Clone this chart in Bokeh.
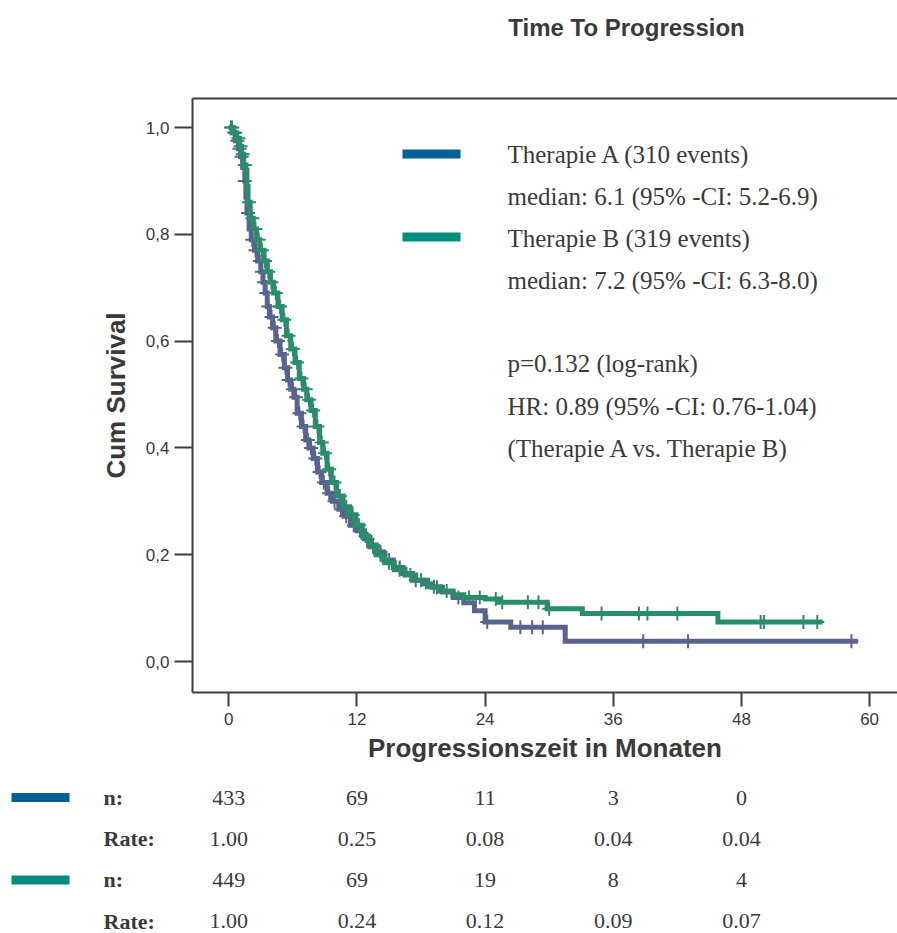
import numpy as np
from bokeh.plotting import figure
from bokeh.models import Range1d, LinearAxis, FixedTicker, ColumnDataSource
from bokeh.layouts import column, row
from bokeh.embed import file_html
from bokeh.resources import INLINE
from bokeh.core.properties import value

# ---------------- data ----------------
title_text = "Time To Progression"
x_label = "Progressionszeit in Monaten"
y_label = "Cum Survival"
x_ticks = [0, 12, 24, 36, 48, 60]
y_ticks = [0.0, 0.2, 0.4, 0.6, 0.8, 1.0]
y_tick_labels = ["0,0", "0,2", "0,4", "0,6", "0,8", "1,0"]

# Therapie A: step times and survival after each step
time_a = [0, 0.3, 0.6, 0.9, 1.1, 1.3, 1.5, 1.6, 1.7, 1.9, 2.1, 2.4, 2.7, 3.0, 3.2, 3.4,
          3.6, 3.8, 4.1, 4.4, 4.8, 5.2, 5.5, 5.8, 6.1, 6.4, 6.8, 7.2, 7.5, 7.9, 8.3, 8.7,
          9.2, 9.7, 10.3, 10.8, 11.4, 12.0, 12.7, 13.2, 13.8, 14.5, 15.4, 16.3, 17.2,
          18.2, 19.1, 20.0, 21.0, 22.0, 23.0, 24.0, 26.4, 31.5, 58.9]
surv_a = [1.0, 0.99, 0.975, 0.96, 0.945, 0.925, 0.90, 0.87, 0.84, 0.81, 0.79, 0.77, 0.75,
          0.73, 0.71, 0.69, 0.665, 0.645, 0.625, 0.60, 0.575, 0.55, 0.527, 0.51, 0.495,
          0.465, 0.44, 0.415, 0.40, 0.38, 0.355, 0.335, 0.315, 0.30, 0.285, 0.272, 0.255,
          0.245, 0.23, 0.215, 0.205, 0.19, 0.176, 0.165, 0.152, 0.145, 0.139, 0.13, 0.12,
          0.11, 0.095, 0.074, 0.064, 0.038, 0.038]
cens_a = [0.2, 0.5, 0.8, 1.0, 1.2, 1.5, 1.8, 2.2, 2.5, 2.9, 3.1, 3.3, 3.5, 3.7, 4.0, 4.3,
          4.6, 5.0, 5.3, 5.6, 6.0, 6.3, 6.6, 7.0, 7.4, 7.7, 8.1, 8.5, 8.9, 9.4, 9.9, 10.5,
          11.0, 11.7, 12.3, 13.0, 13.5, 14.2, 15.0, 16.0, 17.5, 19.5, 21.5, 24.2, 27.3,
          28.4, 29.4, 38.8, 43.0, 58.3]

# Therapie B
time_b = [0, 0.4, 0.7, 1.0, 1.2, 1.4, 1.6, 1.7, 1.8, 2.0, 2.3, 2.6, 2.9, 3.3, 3.6, 3.9,
          4.2, 4.6, 5.0, 5.4, 5.8, 6.2, 6.6, 7.0, 7.3, 7.7, 8.1, 8.5, 8.8, 9.2, 9.6, 10.1,
          10.7, 11.3, 11.9, 12.5, 13.1, 13.8, 14.6, 15.5, 16.5, 17.5, 18.6, 19.8, 21.0,
          22.0, 24.0, 25.3, 29.8, 33.1, 45.8, 55.6]
surv_b = [1.0, 0.99, 0.98, 0.965, 0.95, 0.93, 0.92, 0.89, 0.86, 0.83, 0.81, 0.79, 0.77,
          0.75, 0.73, 0.71, 0.69, 0.665, 0.64, 0.61, 0.585, 0.56, 0.53, 0.51, 0.49, 0.47,
          0.44, 0.41, 0.39, 0.36, 0.335, 0.31, 0.29, 0.275, 0.255, 0.235, 0.218, 0.20,
          0.185, 0.172, 0.162, 0.152, 0.14, 0.132, 0.125, 0.12, 0.117, 0.111, 0.099, 0.09,
          0.074, 0.074]
cens_b = [0.3, 0.6, 0.9, 1.1, 1.3, 1.5, 1.9, 2.2, 2.5, 2.8, 3.1, 3.4, 3.7, 4.0, 4.4, 4.8,
          5.2, 5.6, 6.0, 6.4, 6.8, 7.2, 7.5, 7.9, 8.3, 8.7, 9.0, 9.4, 9.9, 10.4, 11.0, 11.6,
          12.2, 12.8, 13.5, 14.2, 15.0, 16.0, 17.0, 18.0, 19.2, 20.4, 22.5, 23.5, 25.0,
          25.6, 28.0, 29.0, 30.0, 34.9, 38.4, 39.2, 42.0, 49.8, 50.1, 53.8, 55.1]

legend_lines = ["Therapie A (310 events)",
                "median: 6.1 (95% -CI: 5.2-6.9)",
                "Therapie B (319 events)",
                "median: 7.2 (95% -CI: 6.3-8.0)",
                "p=0.132 (log-rank)",
                "HR: 0.89 (95% -CI: 0.76-1.04)",
                "(Therapie A vs. Therapie B)"]

table_times = [0, 12, 24, 36, 48]
n_a = ["433", "69", "11", "3", "0"]
rate_a = ["1.00", "0.25", "0.08", "0.04", "0.04"]
n_b = ["449", "69", "19", "8", "4"]
rate_b = ["1.00", "0.24", "0.12", "0.09", "0.07"]

# ---------------- styles / layout ----------------
W = 897
H0, H1, H2 = 60, 710, 163          # header, chart, table heights
X0PX, PXM = 228.3, 10.68           # pixel of t=0, pixels per month
Y1PX, Y0PX = 127.0, 661.0          # page pixel of S=1 and S=0
FR_L, FR_T, FR_B = 192, 98, 692    # page pixels of frame edges

def tx(px):
    return (px - X0PX) / PXM

def sy(py):
    return (Y0PX - py) / (Y0PX - Y1PX)

col_a_line, col_b_line = "#58648c", "#2a8c6b"
col_a_sw, col_b_sw = "#005f97", "#008f7f"
txt_col = "#3a3a3a"
serif = "Liberation Serif"
sans = "Liberation Sans"

# ---------------- header (title) ----------------
h = figure(width=W, height=H0, output_backend="svg", toolbar_location=None,
           x_range=Range1d(tx(0), tx(W)), y_range=Range1d(H0, 0),
           min_border=0, x_axis_location=None, y_axis_location=None)
h.outline_line_color = None
h.grid.visible = False
h.text(x=[tx(626)], y=[27], text=[title_text], text_font=value(sans),
       text_font_style="bold", text_font_size="24px", text_color=txt_col,
       text_align="center", text_baseline="middle")

# ---------------- main chart ----------------
p = figure(width=W, height=H1, output_backend="svg", toolbar_location=None,
           x_range=Range1d(tx(FR_L), tx(W)), y_range=Range1d(sy(FR_B), sy(FR_T)),
           min_border_left=FR_L, min_border_right=0, min_border_top=FR_T - H0,
           min_border_bottom=H0 + H1 - FR_B)
p.outline_line_color = None
p.grid.visible = False

for ax in (p.xaxis[0], p.yaxis[0]):
    ax.axis_line_width = 2
    ax.axis_line_color = "#3c3c3c"
    ax.major_tick_line_width = 2
    ax.major_tick_line_color = "#3c3c3c"
    ax.major_tick_in = 0
    ax.minor_tick_line_color = None
    ax.major_label_text_font = sans
    ax.major_label_text_font_size = "17px"
    ax.major_label_text_color = txt_col
    ax.axis_label_text_font = sans
    ax.axis_label_text_font_style = "bold"
    ax.axis_label_text_color = txt_col

p.xaxis.ticker = FixedTicker(ticks=x_ticks)
p.xaxis.major_tick_out = 14
p.xaxis.major_label_standoff = 6
p.xaxis.axis_label = x_label
p.xaxis.axis_label_text_font_size = "26px"
p.xaxis.axis_label_standoff = 5

p.yaxis.ticker = FixedTicker(ticks=y_ticks)
p.yaxis.major_label_overrides = {t: l for t, l in zip(y_ticks, y_tick_labels)}
p.yaxis.major_tick_out = 18
p.yaxis.major_label_standoff = 5
p.yaxis.axis_label = y_label
p.yaxis.axis_label_text_font_size = "26px"
p.yaxis.axis_label_standoff = 12

top_ax = LinearAxis(ticker=FixedTicker(ticks=[]), axis_line_width=2, axis_line_color="#3c3c3c",
                    major_tick_line_color=None, minor_tick_line_color=None,
                    major_label_text_font_size="0px")
p.add_layout(top_ax, "above")

def step_at(times, survs, t):
    idx = np.searchsorted(np.array(times), np.array(t), side="right") - 1
    return list(np.array(survs)[idx])

for times, survs, cens, col in ((time_a, surv_a, cens_a, col_a_line),
                                 (time_b, surv_b, cens_b, col_b_line)):
    p.step(x=times, y=survs, mode="after", line_width=5, line_color=col, line_join="miter")
    p.scatter(x=cens, y=step_at(times, survs, cens), marker="cross", size=14,
              line_width=2, line_color=col)

legend_y_px = [154, 196, 238, 280, 363, 406, 448]
leg_src = ColumnDataSource(dict(x=[tx(507)] * len(legend_lines),
                                y=[sy(v) for v in legend_y_px], text=legend_lines))
p.text(x="x", y="y", text="text", source=leg_src, text_font=value(serif),
       text_font_size="25px", text_color=txt_col, text_baseline="middle", text_align="left")
p.quad(left=[tx(402)] * 2, right=[tx(460)] * 2, top=[sy(149), sy(232)],
       bottom=[sy(158), sy(241)], fill_color=[col_a_sw, col_b_sw], line_color=None)

# ---------------- risk table ----------------
ROW0, ROWH = 27.0, 41.2            # centre of first row (px from table top), row step
q = figure(width=W, height=H2, output_backend="svg", toolbar_location=None,
           x_range=Range1d(tx(0), tx(W)),
           y_range=Range1d((H2 - ROW0) / ROWH, -ROW0 / ROWH),
           min_border=0, x_axis_location=None, y_axis_location=None)
q.outline_line_color = None
q.grid.visible = False

rows = [(n_a, 0, "n:"), (rate_a, 1, "Rate:"), (n_b, 2, "n:"), (rate_b, 3, "Rate:")]
for vals, r, lab in rows:
    q.text(x=table_times, y=[r] * len(vals), text=vals, text_font=value(serif),
           text_font_size="22px", text_color=txt_col, text_align="center",
           text_baseline="middle")
    q.text(x=[tx(103)], y=[r], text=[lab], text_font=value(serif), text_font_style="bold",
           text_font_size="22px", text_color=txt_col, text_align="left",
           text_baseline="middle")
half = 4.5 / ROWH
q.quad(left=[tx(11)] * 2, right=[tx(69)] * 2, top=[0 - half, 2 - half],
       bottom=[0 + half, 2 + half], fill_color=[col_a_sw, col_b_sw], line_color=None)

layout = column(row(h), p, row(q), spacing=0)
open("out.html", "w").write(file_html(layout, INLINE))
